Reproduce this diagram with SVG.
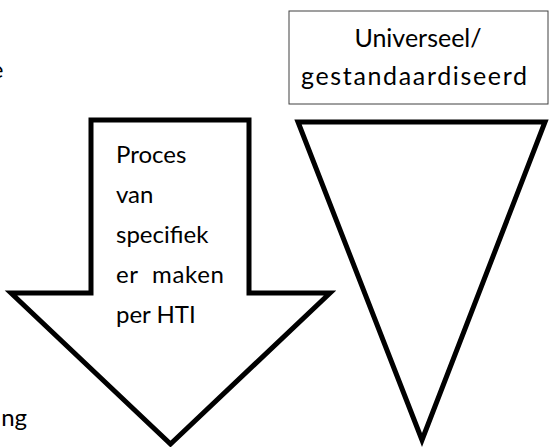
<svg xmlns="http://www.w3.org/2000/svg" width="549" height="447" viewBox="0 0 549 447">
  <style>
    .label { font-family: Lato, "Open Sans", "Noto Sans", sans-serif; font-size: 24px; fill: #000; white-space: pre; }
    .box-label { font-size: 25px; }
    .bold-shape { fill: #fff; stroke: #000; stroke-width: 5; stroke-linejoin: miter; }
    .thin-box { fill: #fff; stroke: #404040; stroke-width: 1; }
  </style>
  <rect width="549" height="447" fill="#fff"/>

  <!-- side labels, partly outside the page -->
  <g id="side-top">
    <text class="label" x="3.5" y="78" text-anchor="end">e</text>
  </g>
  <g id="side-bottom">
    <text class="label" x="27" y="426" text-anchor="end">ng</text>
  </g>

  <!-- downward process arrow -->
  <g id="process-arrow">
    <polygon class="bold-shape" points="91,120 249,120 249,293 330,293 170.5,444 11,293 91,293"/>
    <text class="label" x="116" y="163">Proces</text>
    <text class="label" x="116" y="203">van</text>
    <text class="label" x="116" y="243">specifiek</text>
    <text class="label" x="116" y="283" textLength="108">er  maken</text>
    <text class="label" x="116" y="323">per HTI</text>
  </g>

  <!-- standardised label box -->
  <g id="standard-box">
    <rect class="thin-box" x="289" y="11" width="259" height="93"/>
    <text class="label box-label" x="418" y="47" text-anchor="middle">Universeel/</text>
    <text class="label box-label" x="301" y="85" textLength="226">gestandaardiseerd</text>
  </g>

  <!-- inverted triangle -->
  <g id="funnel">
    <polygon class="bold-shape" points="298,122 545,122 422,440"/>
  </g>

  <g id="connectors"/>
</svg>
